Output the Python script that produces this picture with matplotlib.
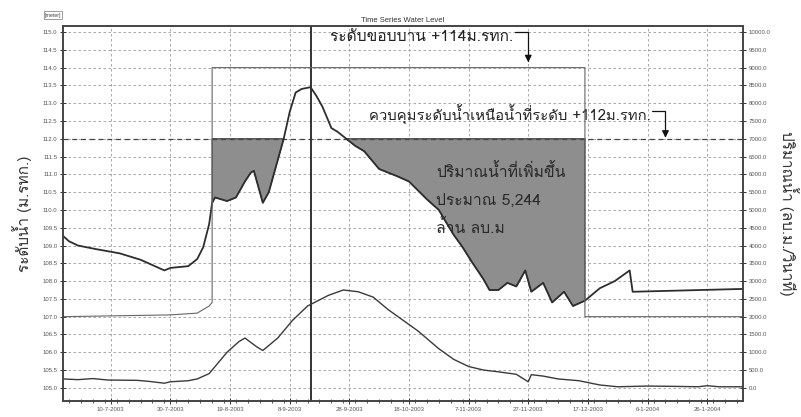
import pandas as pd
import matplotlib
matplotlib.use("Agg")
import matplotlib.pyplot as plt
import matplotlib.dates as mdates
from matplotlib import font_manager
from matplotlib.ft2font import FT2Font
from matplotlib.ticker import MultipleLocator, FormatStrFormatter

# water level upstream (m. MSL)
level_dates = ["2003-06-24", "2003-06-26", "2003-06-29", "2003-07-05", "2003-07-13", "2003-07-20",
               "2003-07-28", "2003-07-30", "2003-08-05", "2003-08-08", "2003-08-10", "2003-08-12",
               "2003-08-13", "2003-08-14", "2003-08-16", "2003-08-18", "2003-08-21", "2003-08-24",
               "2003-08-26", "2003-08-27", "2003-08-28", "2003-08-30", "2003-09-01", "2003-09-02",
               "2003-09-04", "2003-09-06", "2003-09-08", "2003-09-10", "2003-09-12", "2003-09-15",
               "2003-09-17", "2003-09-19", "2003-09-22", "2003-09-24", "2003-09-27", "2003-09-30",
               "2003-10-03", "2003-10-08", "2003-10-14", "2003-10-18", "2003-10-24", "2003-10-28",
               "2003-11-02", "2003-11-05", "2003-11-08", "2003-11-12", "2003-11-14", "2003-11-17",
               "2003-11-20", "2003-11-23", "2003-11-26", "2003-11-28", "2003-12-02", "2003-12-05",
               "2003-12-09", "2003-12-12", "2003-12-16", "2003-12-21", "2003-12-26", "2003-12-31",
               "2004-01-01", "2004-01-10", "2004-02-07"]
level_m = [109.27, 109.12, 109.0, 108.9, 108.78, 108.6,
           108.3, 108.37, 108.42, 108.62, 108.95, 109.6,
           110.2, 110.35, 110.3, 110.25, 110.35, 110.8,
           111.05, 111.1, 110.8, 110.2, 110.5, 110.8,
           111.4, 112.0, 112.75, 113.3, 113.4, 113.45,
           113.2, 112.9, 112.3, 112.2, 112.0, 111.8,
           111.65, 111.15, 110.95, 110.8, 110.3, 110.0,
           109.3, 108.95, 108.55, 108.05, 107.75, 107.75,
           107.95, 107.85, 108.3, 107.7, 107.95, 107.4,
           107.7, 107.3, 107.45, 107.8, 108.0, 108.3,
           107.7, 107.72, 107.78]

# river discharge (m3/s)
flow_dates = ["2003-06-24", "2003-06-29", "2003-07-04", "2003-07-09", "2003-07-19", "2003-07-23",
              "2003-07-28", "2003-07-30", "2003-08-05", "2003-08-08", "2003-08-12", "2003-08-15",
              "2003-08-18", "2003-08-22", "2003-08-24", "2003-08-28", "2003-08-30", "2003-09-04",
              "2003-09-09", "2003-09-14", "2003-09-21", "2003-09-26", "2003-10-01", "2003-10-06",
              "2003-10-11", "2003-10-16", "2003-10-21", "2003-10-28", "2003-11-02", "2003-11-07",
              "2003-11-12", "2003-11-17", "2003-11-23", "2003-11-27", "2003-11-28", "2003-12-02",
              "2003-12-07", "2003-12-14", "2003-12-21", "2003-12-27", "2004-01-06", "2004-01-16",
              "2004-01-23", "2004-01-26", "2004-01-30", "2004-02-07"]
flow_cms = [250, 230, 260, 220, 210, 180,
            130, 170, 200, 250, 400, 700,
            1000, 1300, 1400, 1150, 1050, 1400,
            1900, 2300, 2600, 2750, 2700, 2550,
            2200, 1900, 1600, 1100, 800, 600,
            500, 450, 380, 170, 370, 330,
            250, 200, 80, 30, 50, 40,
            30, 60, 30, 30]

# gate outflow schedule (m3/s)
gate_dates = ["2003-06-24", "2003-07-30", "2003-08-08", "2003-08-12", "2003-08-13", "2003-08-13",
              "2003-12-16", "2003-12-16", "2004-02-07"]
gate_cms = [2000, 2050, 2100, 2300, 2400, 9000, 9000, 2000, 2000]

control_level = 112.0
peak_date = "2003-09-15"
fill_start, fill_end = "2003-08-13", "2003-12-16"


def thai_font():
    for f in font_manager.fontManager.ttflist:
        try:
            if 0x0E01 in FT2Font(f.fname).get_charmap():
                return f.name
        except Exception:
            pass
    return "DejaVu Sans"


thai = [thai_font(), "DejaVu Sans"]
plt.rcParams["font.family"] = ["Liberation Sans", "DejaVu Sans"]

lv = pd.DataFrame({"date": pd.to_datetime(level_dates), "level": level_m})
fl = pd.DataFrame({"date": pd.to_datetime(flow_dates), "flow": flow_cms})
gt = pd.DataFrame({"date": pd.to_datetime(gate_dates), "flow": gate_cms})
store = lv[(lv.date >= fill_start) & (lv.date <= fill_end)]


def dn(s):
    return mdates.date2num(pd.Timestamp(s))


fig = plt.figure(figsize=(8.01, 4.17), dpi=100)
ax = fig.add_axes([63 / 801, 1 - 401 / 417, 680 / 801, 375 / 417])
ax2 = ax.twinx()

y0, y1 = 104.63, 115.17
ax.set_ylim(y0, y1)
ax2.set_ylim((y0 - 105) * 1000, (y1 - 105) * 1000)
ax.set_xlim(pd.Timestamp("2003-06-24"), pd.Timestamp("2004-02-07"))

ax.grid(True, which="major", color="#9a9a9a", linestyle=(0, (3, 3)), linewidth=0.6)
ax.set_axisbelow(True)

# storage above the control level
ax.fill_between(store.date, store.level, control_level, where=store.level <= control_level,
                interpolate=True, facecolor="#8e8e8e", edgecolor="#333333", linewidth=0.8, zorder=2)
ax.axhline(control_level, color="#444444", linestyle=(0, (4, 3)), linewidth=0.9, zorder=2)
ax.plot(lv.date, lv.level, color="#2e2e2e", linewidth=1.3, zorder=3)
ax.axvline(pd.Timestamp(peak_date), color="#333333", linewidth=1.4, zorder=3)

ax2.plot(fl.date, fl.flow, color="#3a3a3a", linewidth=1.0)
ax2.plot(gt.date, gt.flow, color="#666666", linewidth=0.8)

ticks = pd.date_range("2003-07-10", "2004-01-26", freq="20D")
ax.set_xticks(ticks)
ax.set_xticklabels([f"{t.day}-{t.month}-{t.year}" for t in ticks])
ax.set_xticks(pd.date_range("2003-06-26", "2004-02-07", freq="4D"), minor=True)

ax.yaxis.set_major_locator(MultipleLocator(0.5))
ax.yaxis.set_major_formatter(FormatStrFormatter("%.1f"))
ax2.yaxis.set_major_locator(MultipleLocator(500))
ax2.yaxis.set_major_formatter(FormatStrFormatter("%.1f"))

for a in (ax, ax2):
    a.tick_params(axis="both", which="both", direction="inout", labelsize=4.3,
                  labelcolor="#555555", color="#333333", pad=2)
    a.tick_params(which="major", length=4, width=0.7)
    a.tick_params(which="minor", length=3, width=0.6)
    for s in a.spines.values():
        s.set_color("#444444")
        s.set_linewidth(1.2)

ax.set_title("Time Series Water Level", fontsize=5.5, color="#333333", pad=3)
fig.text(53 / 801, 1 - 15 / 417, "[meter]", fontsize=3.8, color="#444444", ha="center", va="center",
         bbox=dict(boxstyle="square,pad=0.2", fc="white", ec="#777777", lw=0.5))

ax.set_ylabel("ระดับน้ำ (ม.รทก.)", family=thai, fontsize=11, color="#333333", va="center")
ax.yaxis.set_label_coords(-0.061, 0.5)
ax2.set_ylabel("ปริมาณน้ำ (ลบ.ม./วินาที)", family=thai, fontsize=11, color="#333333",
               rotation=270, va="center")
ax2.yaxis.set_label_coords(1.068, 0.5)

# labels with bracket arrows
ax.text(dn("2003-11-22"), 114.74, "ระดับขอบบาน +114ม.รทก.", family=thai, fontsize=11.2,
        ha="right", va="baseline", color="#222222")
ax.annotate("", xy=(dn("2003-11-27"), 114.15), xytext=(dn("2003-11-22") + 0.5, 115.0),
            arrowprops=dict(arrowstyle="-|>", color="#111111", lw=0.9, shrinkA=0, shrinkB=0,
                            connectionstyle="angle,angleA=0,angleB=90,rad=0"))
ax.text(dn("2004-01-07"), 112.5, "ควบคุมระดับน้ำเหนือน้ำที่ระดับ +112ม.รทก.", family=thai,
        fontsize=10.7, ha="right", va="baseline", color="#222222")
ax.annotate("", xy=(dn("2004-01-12"), 112.03), xytext=(dn("2004-01-07") + 0.5, 112.79),
            arrowprops=dict(arrowstyle="-|>", color="#111111", lw=0.9, shrinkA=0, shrinkB=0,
                            connectionstyle="angle,angleA=0,angleB=90,rad=0"))

for yv, line in zip([110.93, 110.14, 109.35],
                    ["ปริมาณน้ำที่เพิ่มขึ้น", "ประมาณ 5,244", "ล้าน ลบ.ม"]):
    ax.text(dn("2003-10-27"), yv, line, family=thai, fontsize=11.3, ha="left", va="baseline",
            color="#2a2a2a", zorder=4)

fig.savefig("out.png", dpi=100)
